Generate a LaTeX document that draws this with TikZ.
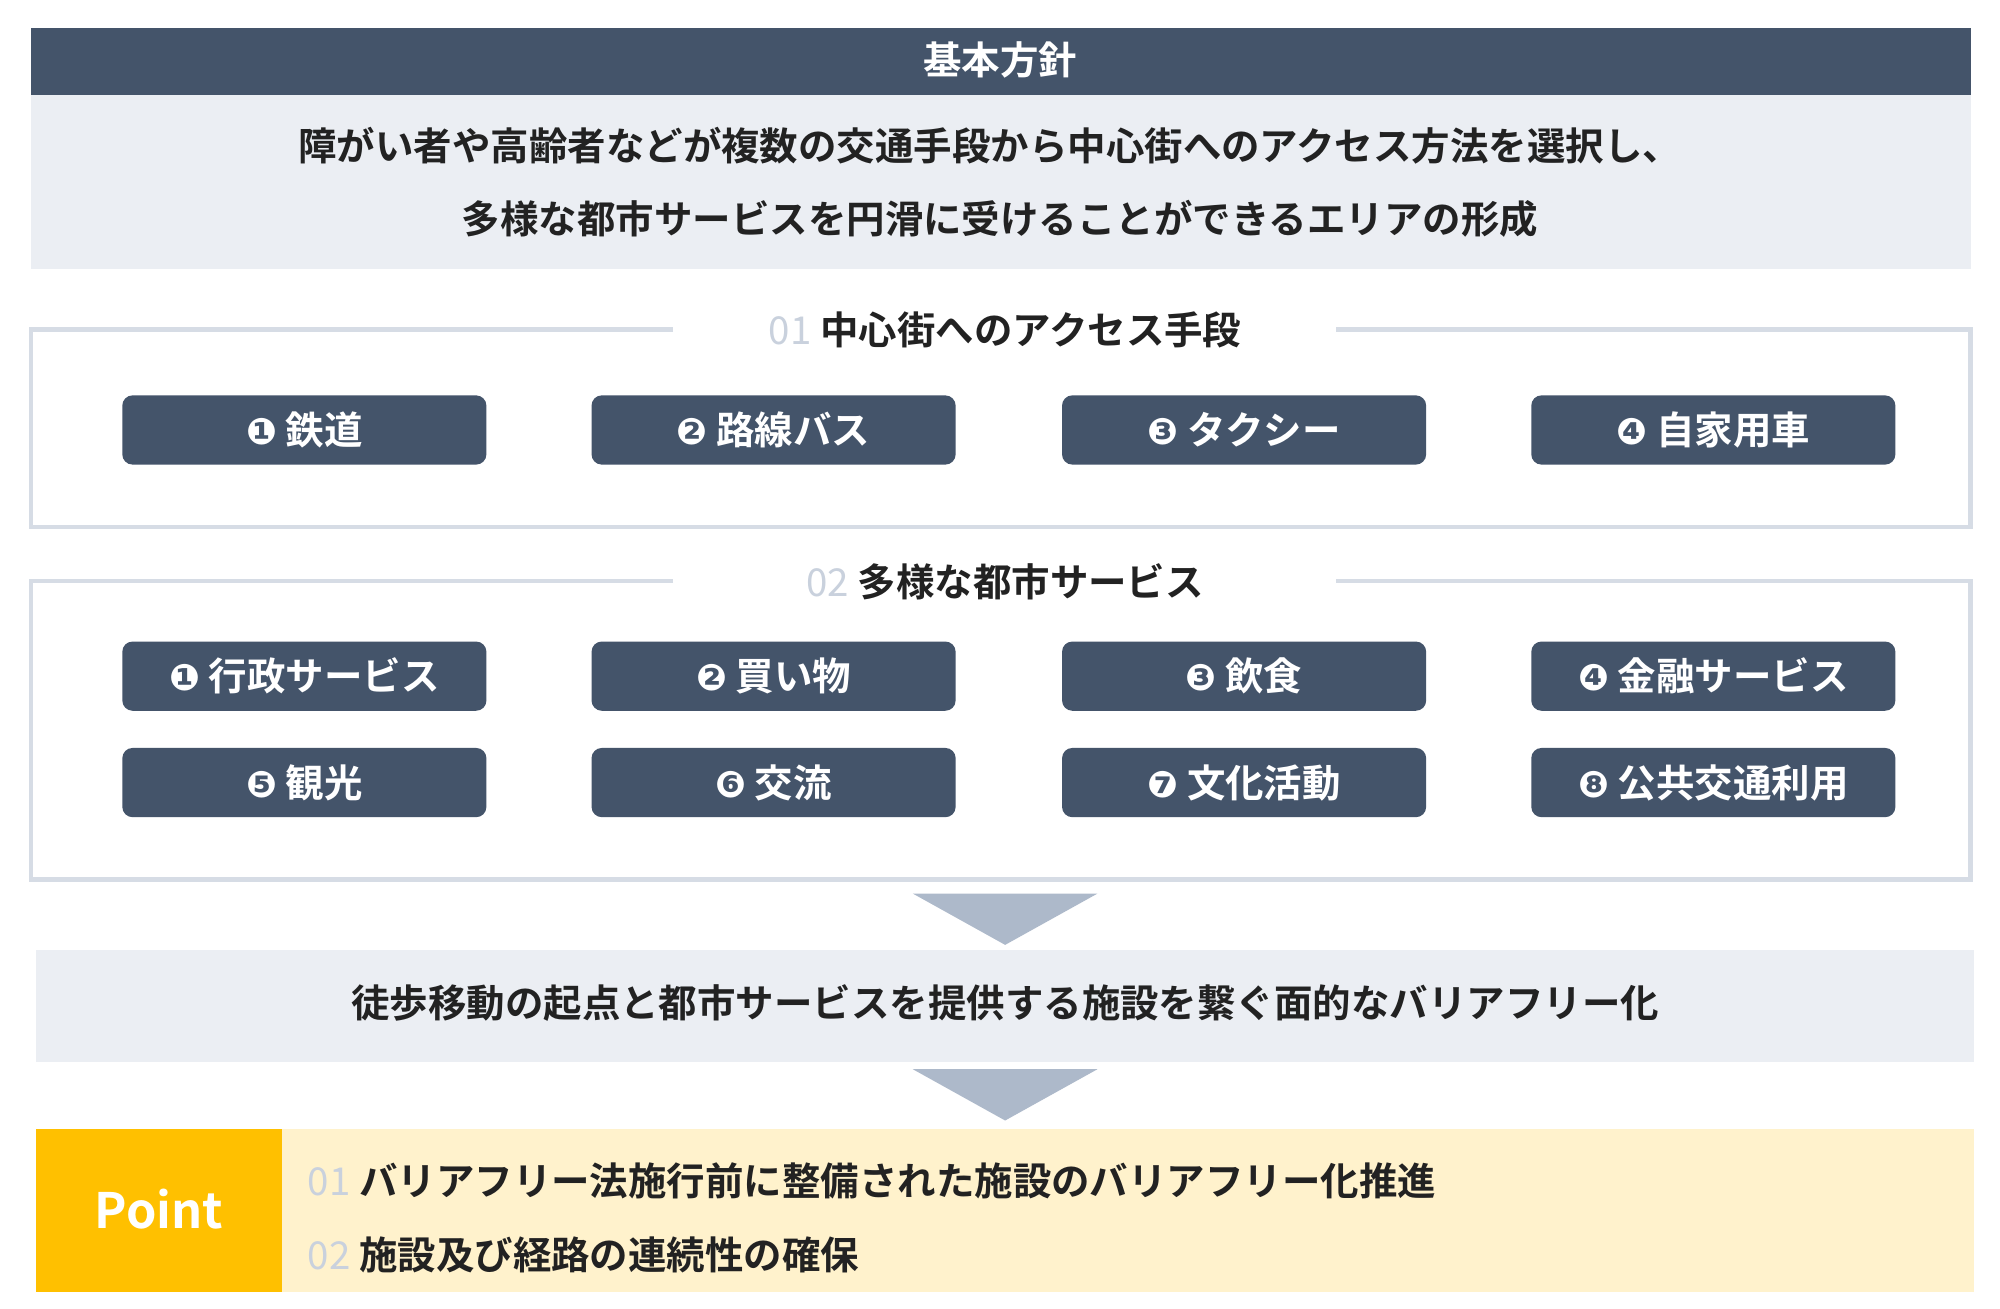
\documentclass[tikz,border=0pt]{standalone}
\usepackage{fontspec}
\setmainfont{Noto Sans CJK JP}[BoldFont={* Bold}]
\newfontfamily\circfont{DejaVu Sans}[Scale=0.95]
\definecolor{navy}{HTML}{44546A}
\definecolor{pale}{HTML}{EBEEF3}
\definecolor{frame}{HTML}{D6DCE5}
\definecolor{tri}{HTML}{ADB9CA}
\definecolor{gold}{HTML}{FFC000}
\definecolor{cream}{HTML}{FFF2CC}
\definecolor{ink}{HTML}{222222}
\definecolor{num}{HTML}{C9D1DD}
\begin{document}
\begin{tikzpicture}[x=0.5pt,y=-0.5pt,
  btn/.style={fill=navy,rounded corners=4pt,minimum width=142pt,minimum height=27pt,text=white,font=\fontsize{15}{15}\bfseries\selectfont,anchor=north west,inner sep=0pt},
  big/.style={text=ink,font=\fontsize{15}{15}\bfseries\selectfont},
  fr/.style={draw=frame,line width=1.6pt}]
\useasboundingbox (0,0) rectangle (1560,1021);
\fill[white] (0,0) rectangle (1560,1021);
% header
\fill[navy] (24,22) rectangle (1537,74);
\node[text=white,font=\fontsize{15}{15}\bfseries\selectfont] (h) at (780,47) {基本方針};
\fill[pale] (24,74) rectangle (1537,210);
\node[big] (l1) at (772,114) {障がい者や高齢者などが複数の交通手段から中心街へのアクセス方法を選択し、};
\node[big] (l2) at (780,171) {多様な都市サービスを円滑に受けることができるエリアの形成};
% section 1
\draw[fr] (525,257) -- (24,257) -- (24,411) -- (1537,411) -- (1537,257) -- (1042,257);
\node[big] (s1) at (784,257) {\textcolor{num}{\mdseries 01} 中心街へのアクセス手段};
\node[btn] (a1) at (95,308) {{\circfont ❶} 鉄道};
\node[btn] (a2) at (461,308) {{\circfont ❷} 路線バス};
\node[btn] (a3) at (828,308) {{\circfont ❸} タクシー};
\node[btn] (a4) at (1194,308) {{\circfont ❹} 自家用車};
% section 2
\draw[fr] (525,453) -- (24,453) -- (24,686) -- (1537,686) -- (1537,453) -- (1042,453);
\node[big] (s2) at (784,454) {\textcolor{num}{\mdseries 02} 多様な都市サービス};
\node[btn] (b1) at (95,500) {{\circfont ❶} 行政サービス};
\node[btn] (b2) at (461,500) {{\circfont ❷} 買い物};
\node[btn] (b3) at (828,500) {{\circfont ❸} 飲食};
\node[btn] (b4) at (1194,500) {{\circfont ❹} 金融サービス};
\node[btn] (b5) at (95,583) {{\circfont ❺} 観光};
\node[btn] (b6) at (461,583) {{\circfont ❻} 交流};
\node[btn] (b7) at (828,583) {{\circfont ❼} 文化活動};
\node[btn] (b8) at (1194,583) {{\circfont ❽} 公共交通利用};
% arrows
\fill[tri] (712,697) -- (856,697) -- (784,737) -- cycle;
\fill[pale] (28,741) rectangle (1540,828);
\node[big] (m) at (784,782) {徒歩移動の起点と都市サービスを提供する施設を繋ぐ面的なバリアフリー化};
\fill[tri] (712,834) -- (856,834) -- (784,874) -- cycle;
% point
\fill[gold] (28,881) rectangle (220,1008);
\fill[cream] (220,881) rectangle (1540,1008);
\node[text=white,font=\fontsize{19}{19}\bfseries\selectfont] (p) at (124,943) {Point};
\node[big,anchor=west] (p1) at (233,921) {\textcolor{num}{\mdseries 01} バリアフリー法施行前に整備された施設のバリアフリー化推進};
\node[big,anchor=west] (p2) at (233,979) {\textcolor{num}{\mdseries 02} 施設及び経路の連続性の確保};
\end{tikzpicture}
\end{document}
